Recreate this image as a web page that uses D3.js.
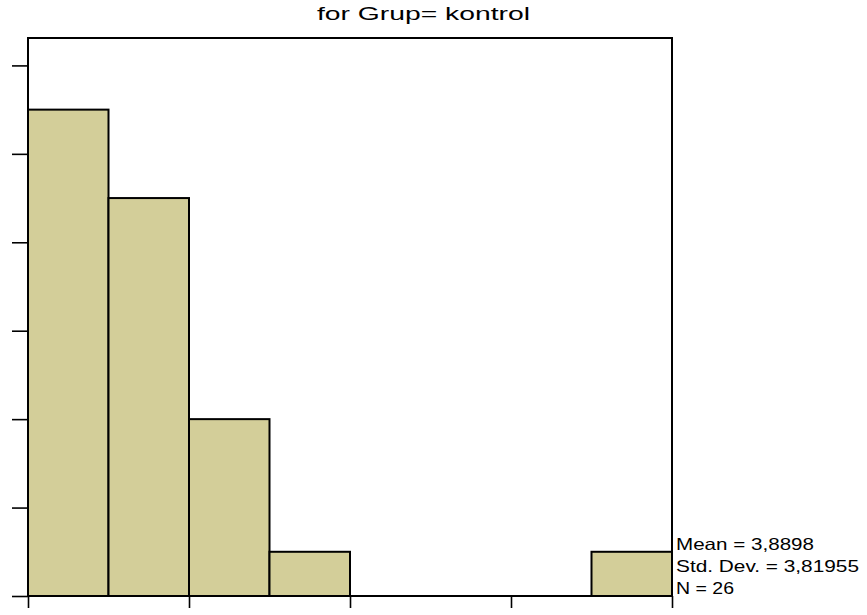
<!DOCTYPE html>
<html>
<head>
<meta charset="utf-8">
<script src="https://cdnjs.cloudflare.com/ajax/libs/d3/7.8.5/d3.min.js"></script>
<style>
  html, body { margin: 0; padding: 0; background: #ffffff; }
  svg { display: block; }
  text { font-family: "Liberation Sans", Arial, sans-serif; fill: #000; }
</style>
</head>
<body>
<svg id="chart" width="867" height="615"></svg>
<script>
// Histogram data: bin edges (lower bounds), bin width and counts
const binStarts = [0, 2.5, 5, 7.5, 10, 12.5, 15, 17.5];
const binWidth = 2.5;
const counts = [11, 9, 4, 1, 0, 0, 0, 1];
const xTicks = [0, 5, 10, 15, 20];
const yTicks = [0, 2, 4, 6, 8, 10, 12];
const titleText = "for Grup= kontrol";
const statsLines = ["Mean = 3,8898", "Std. Dev. = 3,81955", "N = 26"];

const svg = d3.select("#chart");
const plotLeft = 28, plotRight = 672, plotTop = 38, plotBottom = 596;

const x = d3.scaleLinear().domain([0, 20]).range([plotLeft, plotRight]);
const y = d3.scaleLinear().domain([0, 12.62]).range([plotBottom, plotTop]);

// Bars
svg.append("g")
  .selectAll("rect")
  .data(binStarts.map((s, i) => ({ s, c: counts[i] })).filter(d => d.c > 0))
  .join("rect")
  .attr("x", d => x(d.s))
  .attr("width", d => x(d.s + binWidth) - x(d.s))
  .attr("y", d => y(d.c))
  .attr("height", d => y(0) - y(d.c))
  .attr("fill", "rgb(211,206,153)")
  .attr("stroke", "#000")
  .attr("stroke-width", 2);

// Frame: left, top and right edges
svg.append("path")
  .attr("d", `M${plotLeft},${plotBottom}V${plotTop}H${plotRight}V${plotBottom}`)
  .attr("fill", "none")
  .attr("stroke", "#000")
  .attr("stroke-width", 2);

// Bottom axis (ticks without labels)
const xAxis = svg.append("g")
  .attr("transform", `translate(0,${plotBottom})`)
  .call(d3.axisBottom(x).tickValues(xTicks).tickSize(12).tickFormat(""));
xAxis.select(".domain").attr("stroke", "#000").attr("stroke-width", 2)
  .attr("d", `M${plotLeft},0H${plotRight}`);
xAxis.selectAll(".tick line").attr("stroke", "#000").attr("stroke-width", 1.6);

// Left axis (ticks without labels)
const yAxis = svg.append("g")
  .attr("transform", `translate(${plotLeft},0)`)
  .call(d3.axisLeft(y).tickValues(yTicks).tickSize(16).tickFormat(""));
yAxis.select(".domain").remove();
yAxis.selectAll(".tick line").attr("stroke", "#000").attr("stroke-width", 1.6);

// Title
svg.append("text")
  .attr("x", 317)
  .attr("y", 20)
  .attr("font-size", 18)
  .attr("textLength", 213)
  .attr("lengthAdjust", "spacingAndGlyphs")
  .text(titleText);

// Summary statistics
const statWidths = [138, 183, 58];
svg.append("g")
  .selectAll("text")
  .data(statsLines)
  .join("text")
  .attr("x", 676)
  .attr("y", (d, i) => 550 + i * 22)
  .attr("font-size", 16.5)
  .attr("textLength", (d, i) => statWidths[i])
  .attr("lengthAdjust", "spacingAndGlyphs")
  .text(d => d);
</script>
</body>
</html>
